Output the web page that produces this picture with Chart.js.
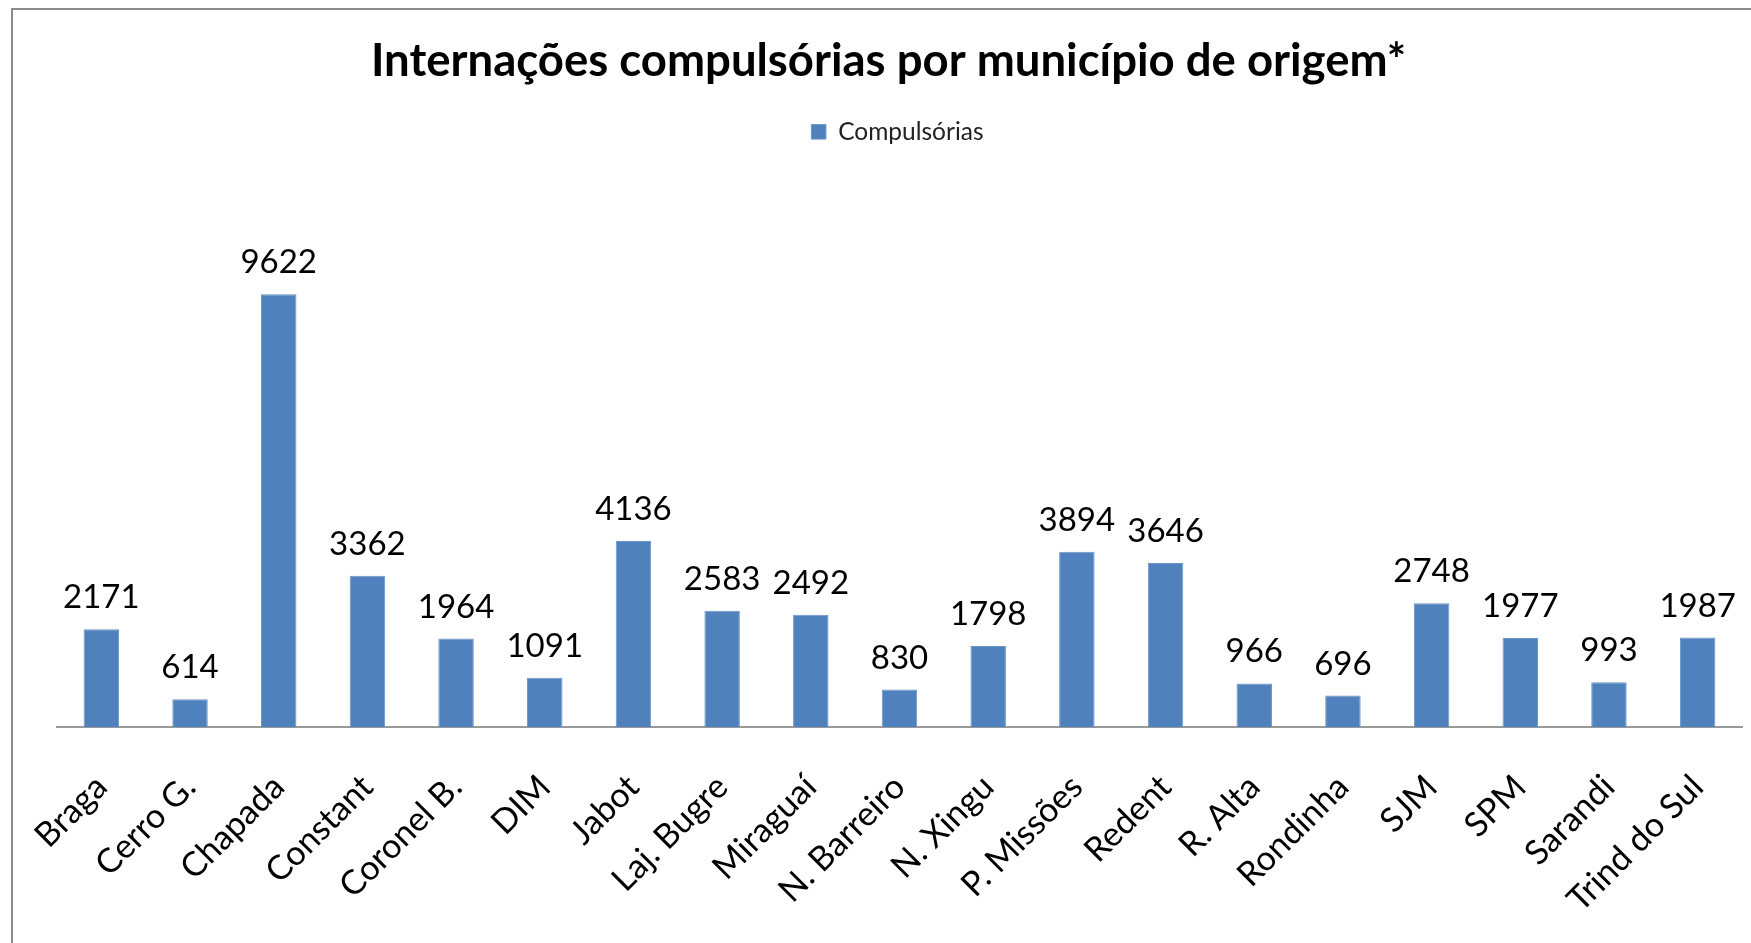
<!DOCTYPE html>
<html><head><meta charset="utf-8">
<script src="https://cdn.jsdelivr.net/npm/chart.js@4"></script>
<style>
html,body{margin:0;padding:0;background:#fff;overflow:hidden}
#frame{position:absolute;left:11px;top:8px;width:1800px;height:1000px;border-left:2px solid #8c8c8c;border-top:2px solid #8c8c8c}
#wrap{position:absolute;left:0;top:0;width:1751px;height:943px}
</style></head>
<body>
<div id="frame"></div>
<div id="wrap"><canvas id="c" width="1751" height="943"></canvas></div>
<script>
const categories = ["Braga","Cerro G.","Chapada","Constant","Coronel B.","DIM","Jabot","Laj. Bugre","Miraguaí","N. Barreiro","N. Xingu","P. Missões","Redent","R. Alta","Rondinha","SJM","SPM","Sarandi","Trind do Sul"];
const compulsorias = [2171,614,9622,3362,1964,1091,4136,2583,2492,830,1798,3894,3646,966,696,2748,1977,993,1987];
const seriesName = "Compulsórias";
const titleText = "Internações compulsórias por município de origem*";

const FONT = "Lato, 'Open Sans', sans-serif";

const valueLabels = {
  id: 'valueLabels',
  afterDatasetsDraw(chart) {
    const ctx = chart.ctx;
    const meta = chart.getDatasetMeta(0);
    ctx.save();
    ctx.font = "33px " + FONT;
    ctx.fillStyle = "#000";
    ctx.textAlign = "center";
    ctx.textBaseline = "alphabetic";
    meta.data.forEach((bar, i) => {
      ctx.fillText(String(chart.data.datasets[0].data[i]), bar.x, bar.y - 21);
    });
    ctx.restore();
  }
};

const legendShift = {
  id: 'legendShift',
  afterLayout(chart) {
    if (chart.legend) { chart.legend.left += 18; }
  }
};

new Chart(document.getElementById('c'), {
  type: 'bar',
  data: {
    labels: categories,
    datasets: [{
      label: seriesName,
      data: compulsorias,
      backgroundColor: '#4F81BD',
      borderColor: '#6d96c8',
      borderWidth: 1,
      barPercentage: 0.4,
      categoryPercentage: 1.0
    }]
  },
  options: {
    responsive: false,
    animation: false,
    layout: { padding: { top: 10, left: 35, right: 9, bottom: -17 } },
    plugins: {
      title: {
        display: true,
        text: titleText,
        color: '#000',
        font: { family: FONT, size: 45.5, weight: 'bold', lineHeight: 1.2 },
        padding: { top: 24, bottom: 16 }
      },
      legend: {
        display: true,
        labels: {
          color: '#222',
          font: { family: FONT, size: 24.5 },
          boxWidth: 14.5, boxHeight: 14.5,
          padding: 15
        }
      },
      tooltip: { enabled: false }
    },
    scales: {
      x: {
        grid: { display: false, drawTicks: false },
        border: { display: true, color: '#999', width: 2 },
        ticks: {
          color: '#000',
          font: { family: FONT, size: 34 },
          minRotation: 45, maxRotation: 45,
          autoSkip: false,
          padding: 40
        },
        afterFit(scale) {
          scale.paddingLeft = 57;
          scale.paddingRight = 0;
        }
      },
      y: {
        display: false,
        min: 0,
        max: 12740
      }
    }
  },
  plugins: [valueLabels, legendShift]
});
</script>
</body></html>
